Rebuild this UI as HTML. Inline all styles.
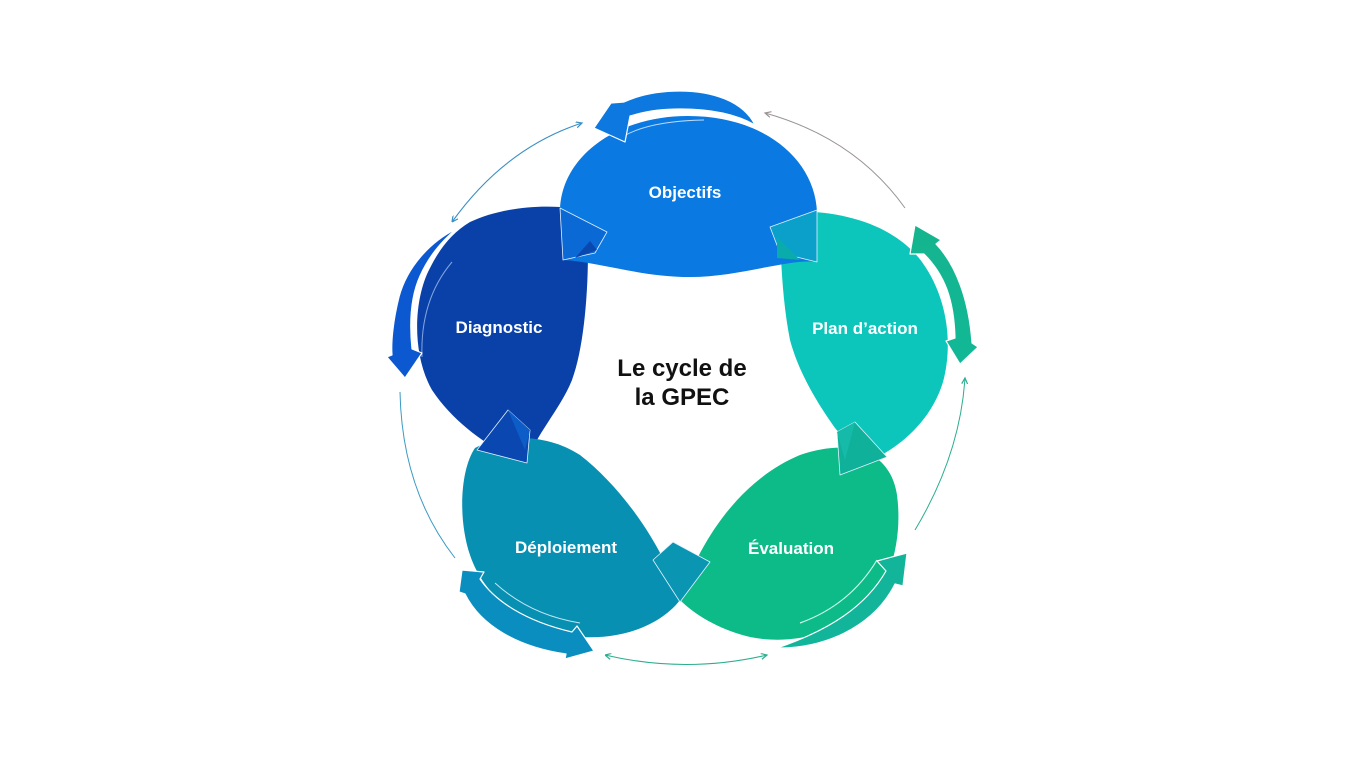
<!DOCTYPE html>
<html><head><meta charset="utf-8"><style>
html,body{margin:0;padding:0;background:#fff;}
svg{display:block;}
.lbl{font-family:"Liberation Sans",Arial,sans-serif;font-weight:bold;font-size:17px;fill:#fff;}
.ctr{font-family:"Liberation Sans",Arial,sans-serif;font-weight:bold;font-size:24px;fill:#111;}
</style></head><body>
<svg width="1360" height="768" viewBox="0 0 1360 768" xmlns="http://www.w3.org/2000/svg">
<defs>
<marker id="ahb" markerWidth="8" markerHeight="8" refX="6" refY="3" orient="auto" markerUnits="userSpaceOnUse">
<path d="M0,0 L6,3 L0,6" fill="none" stroke="#3a8fc4" stroke-width="1.2"/>
</marker>
<marker id="ahg" markerWidth="8" markerHeight="8" refX="6" refY="3" orient="auto" markerUnits="userSpaceOnUse">
<path d="M0,0 L6,3 L0,6" fill="none" stroke="#9a9494" stroke-width="1.2"/>
</marker>
<marker id="aht" markerWidth="8" markerHeight="8" refX="6" refY="3" orient="auto" markerUnits="userSpaceOnUse">
<path d="M0,0 L6,3 L0,6" fill="none" stroke="#2aae8e" stroke-width="1.2"/>
</marker>
<marker id="ahbs" markerWidth="8" markerHeight="8" refX="0" refY="3" orient="auto" markerUnits="userSpaceOnUse">
<path d="M6,0 L0,3 L6,6" fill="none" stroke="#3a8fc4" stroke-width="1.2"/>
</marker>
<marker id="ahts" markerWidth="8" markerHeight="8" refX="0" refY="3" orient="auto" markerUnits="userSpaceOnUse">
<path d="M6,0 L0,3 L6,6" fill="none" stroke="#2aae8e" stroke-width="1.2"/>
</marker>
<linearGradient id="gr" x1="0" y1="0" x2="0" y2="1">
<stop offset="0" stop-color="#14b48e"/><stop offset="1" stop-color="#12b896"/>
</linearGradient>
</defs>
<rect width="1360" height="768" fill="#ffffff"/>

<!-- thin connectors -->
<path d="M452,222 Q505,148 582,123" fill="none" stroke="#3a8fc4" stroke-width="1.1" marker-end="url(#ahb)" marker-start="url(#ahbs)"/>
<path d="M905,208 Q855,138 765,113" fill="none" stroke="#9a9494" stroke-width="1" marker-end="url(#ahg)"/>
<path d="M915,530 Q960,455 965,378" fill="none" stroke="#2aae8e" stroke-width="1" marker-end="url(#aht)"/>
<path d="M605,655 Q686,674 767,655" fill="none" stroke="#2aae8e" stroke-width="1.1" marker-end="url(#aht)" marker-start="url(#ahts)"/>
<path d="M400,392 Q402,490 455,558" fill="none" stroke="#3a9ac4" stroke-width="1"/>

<!-- blobs -->
<path d="M470,222 C495,210 530,205 560,207 C580,210 588,225 588,250 C588,300 583,350 572,380 C560,410 535,435 527,463 C495,452 455,425 432,390 C412,355 413,300 430,268 C440,248 452,233 470,222 Z" fill="#0a41a8"/>
<path d="M780,212 C840,208 895,225 922,262 C948,298 953,345 943,382 C932,418 905,442 880,456 C860,450 845,440 835,428 C815,400 798,370 790,340 C782,300 780,250 780,212 Z" fill="#0cc6bb"/>
<path d="M560,212 C560,158 615,116 688,116 C765,116 815,160 817,212 L817,262 C790,258 740,277 690,277 C640,277 600,262 563,260 Z" fill="#0a79e1"/>
<path d="M680,600 C665,550 625,490 580,455 C545,432 500,435 475,448 C460,470 458,520 470,555 C485,600 530,632 580,637 C630,640 665,620 680,600 Z" fill="#0890b2"/>
<path d="M680,600 C700,540 740,480 800,455 C850,438 890,450 897,495 C903,540 890,590 860,612 C830,635 790,645 750,637 C720,630 695,615 680,600 Z" fill="#0cbb88"/>

<!-- inner white track lines -->
<path d="M624,136 Q650,121 704,120" fill="none" stroke="#cfe6ff" stroke-width="1" opacity="0.9"/>
<path d="M452,262 Q420,300 422,357" fill="none" stroke="#8fb0e8" stroke-width="1" opacity="0.9"/>
<path d="M495,583 Q530,615 580,623" fill="none" stroke="#d6f0ff" stroke-width="1" opacity="0.9"/>
<path d="M800,623 Q850,605 877,560" fill="none" stroke="#e0fff4" stroke-width="1.2" opacity="0.9"/>

<!-- outer arrows -->
<path d="M755,125 C743,101 712,91 680,91 C655,91 637,96 624,102 L611,103 L594,128 L625,142 L630,116 C650,110 665,109 680,109 C710,109 736,114 755,125 Z" fill="#0c78e0" stroke="#fff" stroke-width="1.2" stroke-linejoin="round"/>
<path d="M456,229 C430,242 407,267 399,297 C393,321 391,342 392,355 L387,357 L405,378 L422,353 L412,349 C409,320 411,296 420,276 C429,256 441,242 456,229 Z" fill="#0c58d0" stroke="#fff" stroke-width="1.2" stroke-linejoin="round"/>
<path d="M915,225 L941,240 L936,244 C956,265 969,300 972,343 L978,347 L960,364 L946,341 L955,338 C954,300 945,275 924,254 L910,254 Z" fill="url(#gr)" stroke="#fff" stroke-width="1.2" stroke-linejoin="round"/>
<path d="M462,570 L484,572 L480,579 C495,601 525,621 572,632 L577,626 L594,651 L565,659 L566,654 C518,647 481,626 465,594 L459,592 Z" fill="#0a8ebf" stroke="#fff" stroke-width="1.2" stroke-linejoin="round"/>
<path d="M777,648 C822,649 873,628 895,584 L903,586 L907,553 L877,561 L886,571 C866,606 830,630 777,648 Z" fill="#12b49a" stroke="#fff" stroke-width="1.2" stroke-linejoin="round"/>

<!-- junction connectors -->
<g stroke="#dff2ff" stroke-width="0.8" stroke-linejoin="round">
<polygon points="560,208 607,232 595,253 563,260" fill="#0b69d6"/>
<polygon points="575,258 597,250 590,241" fill="#0a47ae" stroke="none"/>
<polygon points="770,227 817,210 817,262 780,253" fill="#0aa0ca"/>
<polygon points="777,237 800,260 777,258" fill="#0aabab" stroke="none"/>
<polygon points="855,422 887,457 840,475 837,432" fill="#10b19b"/>
<polygon points="837,432 855,422 845,460" fill="#16baa8" stroke="none"/>
<polygon points="508,410 530,430 527,463 477,450" fill="#0a47b0"/>
<polygon points="508,410 530,430 525,450" fill="#0d5dc8" stroke="none"/>
<polygon points="673,542 710,562 680,602 653,560" fill="#0a95b3"/>
</g>

<!-- labels -->
<text class="lbl" x="685" y="198" text-anchor="middle">Objectifs</text>
<text class="lbl" x="499" y="333" text-anchor="middle">Diagnostic</text>
<text class="lbl" x="865" y="334" text-anchor="middle">Plan d’action</text>
<text class="lbl" x="566" y="553" text-anchor="middle">Déploiement</text>
<text class="lbl" x="791" y="554" text-anchor="middle">Évaluation</text>

<text class="ctr" x="682" y="376" text-anchor="middle">Le cycle de</text>
<text class="ctr" x="682" y="405" text-anchor="middle">la GPEC</text>
</svg>
</body></html>
